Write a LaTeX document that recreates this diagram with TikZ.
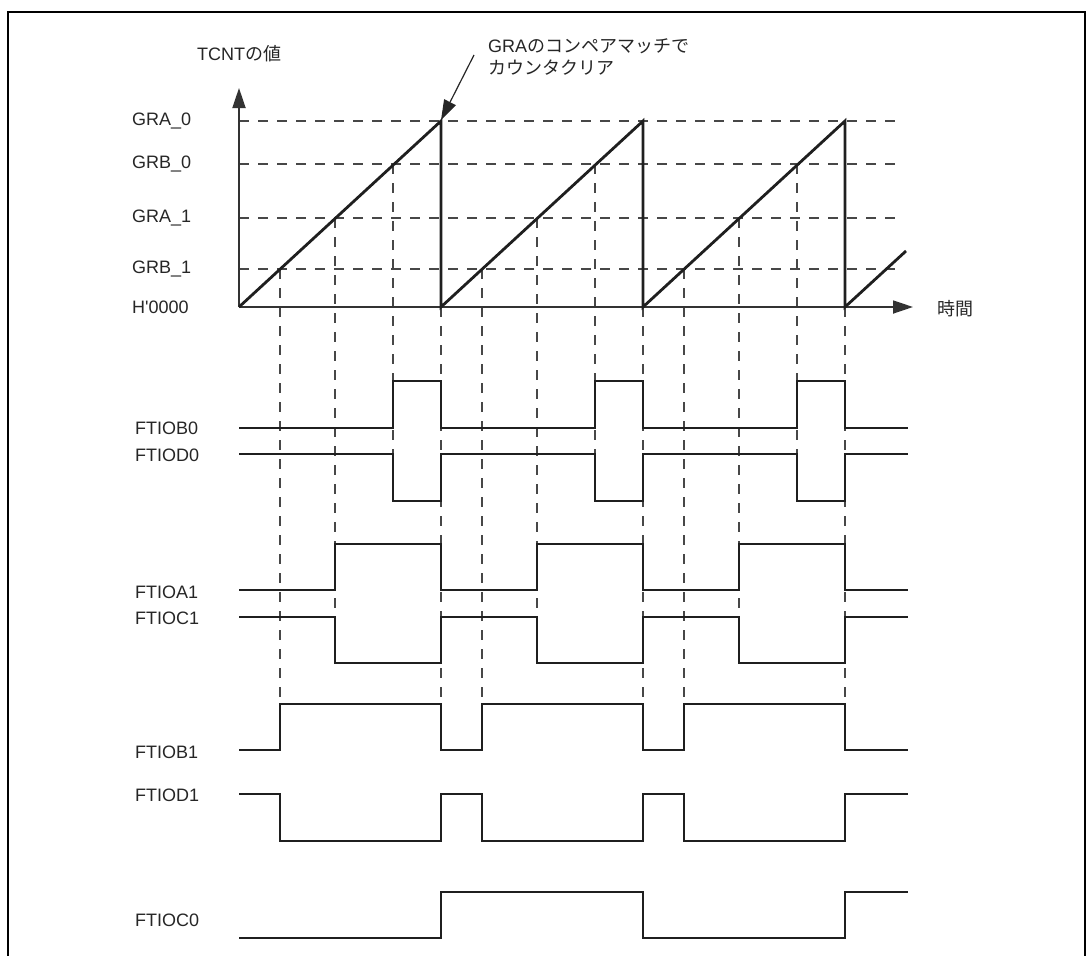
\documentclass[tikz,border=0pt]{standalone}
\usepackage{fontspec}
\setmainfont{Liberation Sans}
\newfontfamily\lsplain{Liberation Sans}
\newfontfamily\jp{Noto Sans CJK JP}
\usetikzlibrary{arrows.meta}
\begin{document}
\begin{tikzpicture}[x=1pt,y=-1pt,
  font=\fontsize{18}{21}\selectfont,
  sig/.style={line width=2.8pt, black!88, line join=miter},
  saw/.style={line width=2.8pt, black!88, line join=miter},
  gridline/.style={line width=1.3pt, black!72, dash pattern=on 10pt off 9pt},
  axisline/.style={line width=1.8pt, black!80, -{Triangle[length=20pt,width=13pt]}},
  lbl/.style={anchor=west, inner sep=0pt, text=black!85},
  frameline/.style={line width=2.6pt, black}]
\useasboundingbox (0,0) rectangle (1090,956);
% frame
\draw[frameline] (8,960) -- (8,12) -- (1085,12) -- (1085,960);
% horizontal dashed levels
\foreach \yy in {121,164,218,269}{
  \draw[gridline] (239,\yy) -- (902,\yy);
}
% vertical dashed lines
\foreach \o in {0,202,404}{
  \draw[gridline] (280+\o,269) -- (280+\o,703);
  \draw[gridline] (335+\o,218) -- (335+\o,663);
  \draw[gridline] (393+\o,164) -- (393+\o,501);
  \draw[gridline] (441+\o,307) -- (441+\o,703);
}
% axes
\coordinate (orig) at (239,307);
\coordinate (ytip) at (239,88);
\coordinate (xtip) at (913,307);
\draw[axisline] (orig) -- (ytip);
\draw[axisline] (orig) -- (xtip);
% sawtooth
\draw[saw] (239,307) -- (441,121) -- (441,307) -- (643,121) -- (643,307) -- (845,121) -- (845,307) -- (906,251);
% axis labels
\node[lbl] (tcnt) at (197,54) {TCNT{\jp の値}};
\node[lbl] (time) at (937,309) {\jp 時間};
\node[lbl] (lgra0) at (132,121) {GRA\_0};
\node[lbl] (lgrb0) at (132,164) {GRB\_0};
\node[lbl] (lgra1) at (132,218) {GRA\_1};
\node[lbl] (lgrb1) at (132,269) {GRB\_1};
\node[lbl] (lzero) at (132,307) {H{\lsplain '}0000};
% annotation
\node[lbl] (note1) at (488,46) {GRA{\jp のコンペアマッチで}};
\node[lbl] (note2) at (488,68) {\jp カウンタクリア};
\coordinate (nstart) at (474,55);
\coordinate (peak) at (441,120);
\draw[line width=1.2pt, black!85, -{Triangle[length=20pt,width=13pt]}] (nstart) -- (peak);
% signal labels
\node[lbl] (sb0) at (135,428) {FTIOB0};
\node[lbl] (sd0) at (135,455) {FTIOD0};
\node[lbl] (sa1) at (135,592) {FTIOA1};
\node[lbl] (sc1) at (135,618) {FTIOC1};
\node[lbl] (sb1) at (135,752) {FTIOB1};
\node[lbl] (sd1) at (135,795) {FTIOD1};
\node[lbl] (sc0) at (135,920) {FTIOC0};
% waveforms
\draw[sig] (239,428) -| (393,381) -| (441,428) -| (595,381) -| (643,428) -| (797,381) -| (845,428) -- (908,428);
\draw[sig] (239,454) -| (393,501) -| (441,454) -| (595,501) -| (643,454) -| (797,501) -| (845,454) -- (908,454);
\draw[sig] (239,590) -| (335,544) -| (441,590) -| (537,544) -| (643,590) -| (739,544) -| (845,590) -- (908,590);
\draw[sig] (239,617) -| (335,663) -| (441,617) -| (537,663) -| (643,617) -| (739,663) -| (845,617) -- (908,617);
\draw[sig] (239,750) -| (280,704) -| (441,750) -| (482,704) -| (643,750) -| (684,704) -| (845,750) -- (908,750);
\draw[sig] (239,794) -| (280,841) -| (441,794) -| (482,841) -| (643,794) -| (684,841) -| (845,794) -- (908,794);
\draw[sig] (239,938) -| (441,892) -| (643,938) -| (845,892) -- (908,892);
\end{tikzpicture}
\end{document}
